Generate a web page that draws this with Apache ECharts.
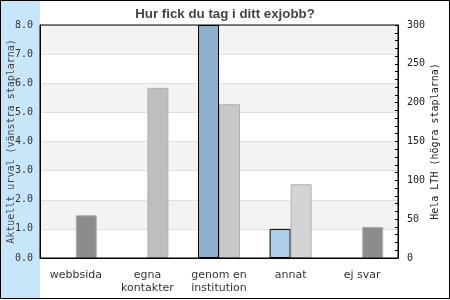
<!DOCTYPE html>
<html><head><meta charset="utf-8">
<script src="https://cdn.jsdelivr.net/npm/echarts@6/dist/echarts.min.js"></script>
<style>html,body{margin:0;padding:0;background:#fff}#c{width:450px;height:300px}</style>
</head><body><div id="c"></div>
<script>
const categories = ['webbsida', 'egna\nkontakter', 'genom en\ninstitution', 'annat', 'ej svar'];
const urvalValues = [0, 0, 8, 1.0, 0];
const lthValues = [55, 219, 198, 95, 40];
const urvalColors = ['#8fb0cc', '#8fb0cc', '#8fb0cc', '#aecde8', '#8fb0cc'];
const lthColors = ['#8c8c8c', '#bebebe', '#c8c8c8', '#d4d4d4', '#8c8c8c'];
const leftTicks = [0, 8, 1];
const rightTicks = [0, 300, 50];

const chart = echarts.init(document.getElementById('c'), null, {renderer: 'canvas'});
const mono = 'DejaVu Sans Mono';
chart.setOption({
  animation: false,
  backgroundColor: '#fff',
  graphic: [
    {type: 'rect', z: -10, shape: {x: 1, y: 1, width: 39, height: 297}, style: {fill: '#c8e6fa'}},
    {type: 'rect', z: 100, shape: {x: 0.5, y: 0.5, width: 449, height: 298}, style: {fill: null, stroke: '#000', lineWidth: 1}}
  ],
  title: {
    text: 'Hur fick du tag i ditt exjobb?', left: 'center', top: 3,
    textStyle: {fontFamily: 'Liberation Sans', fontWeight: 'bold', fontSize: 13.3, color: '#444'}
  },
  grid: {left: 40, top: 25, right: 52, bottom: 42, outerBoundsMode: 'none', containLabel: false, show: true, borderColor: '#000', borderWidth: 1, backgroundColor: 'transparent', z: 5},
  xAxis: {
    type: 'category', data: categories,
    axisLine: {lineStyle: {color: '#000'}},
    axisTick: {show: false},
    axisLabel: {fontFamily: 'DejaVu Sans', fontSize: 11, color: '#333', margin: 11, lineHeight: 13, interval: 0}
  },
  yAxis: [
    {
      type: 'value', position: 'left', min: leftTicks[0], max: leftTicks[1], interval: leftTicks[2],
      name: 'Aktuellt urval (vänstra staplarna)', nameLocation: 'middle', nameGap: 24, nameRotate: 90, nameMoveOverlap: false,
      nameTextStyle: {fontFamily: mono, fontSize: 10, color: '#444'},
      axisLine: {show: true, lineStyle: {color: '#000'}},
      axisTick: {show: false},
      axisLabel: {fontFamily: mono, fontSize: 10, color: '#333', margin: 7, formatter: v => v.toFixed(1)},
      splitLine: {show: true, lineStyle: {color: '#e0e0e0'}},
      splitArea: {show: true, areaStyle: {color: ['#ffffff', '#f3f3f3']}}
    },
    {
      type: 'value', position: 'right', min: rightTicks[0], max: rightTicks[1], interval: rightTicks[2],
      name: 'Hela LTH (högra staplarna)', nameLocation: 'middle', nameGap: 32, nameRotate: 90, nameMoveOverlap: false,
      nameTextStyle: {fontFamily: mono, fontSize: 10, color: '#222'},
      axisLine: {show: true, lineStyle: {color: '#000'}},
      axisTick: {show: true, inside: true, length: 3, lineStyle: {color: '#000'}},
      minorTick: {show: true, splitNumber: 5, length: 3, lineStyle: {color: '#000'}},
      axisLabel: {fontFamily: mono, fontSize: 10, color: '#222', margin: 9},
      splitLine: {show: false}
    }
  ],
  series: [
    {
      type: 'bar', yAxisIndex: 0, barWidth: 21, barGap: '0%',
      data: urvalValues.map((v, i) => ({value: v, itemStyle: {color: urvalColors[i], borderWidth: v === 0 ? 0 : 1}})),
      itemStyle: {borderColor: '#000', borderWidth: 1}
    },
    {
      type: 'bar', yAxisIndex: 1, barWidth: 21, barGap: '0%',
      data: lthValues.map((v, i) => ({value: v, itemStyle: {color: lthColors[i]}})),
      itemStyle: {borderColor: '#b0b0b0', borderWidth: 1}
    }
  ]
});
</script></body></html>
